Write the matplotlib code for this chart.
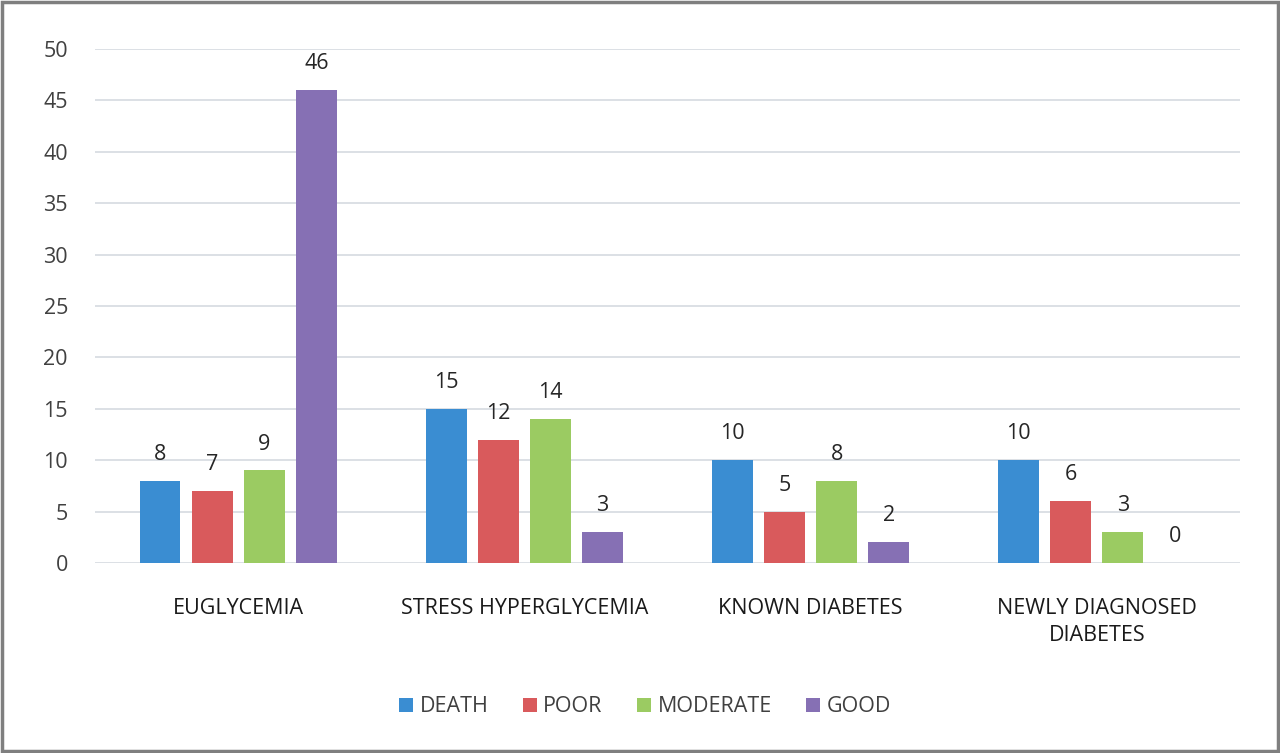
import matplotlib
matplotlib.use("Agg")
import matplotlib.pyplot as plt
import numpy as np
from matplotlib.patches import Rectangle

categories = ["EUGLYCEMIA", "STRESS HYPERGLYCEMIA", "KNOWN DIABETES", "NEWLY DIAGNOSED\nDIABETES"]
series_names = ["DEATH", "POOR", "MODERATE", "GOOD"]
death = [8, 15, 10, 10]
poor = [7, 12, 5, 6]
moderate = [9, 14, 8, 3]
good = [46, 3, 2, 0]
colors = ["#3a8dd2", "#d95a5c", "#9bcb62", "#8670b4"]
yticks = [0, 5, 10, 15, 20, 25, 30, 35, 40, 45, 50]

plt.rcParams['font.family'] = ['Open Sans', 'DejaVu Sans']
fig = plt.figure(figsize=(12.8, 7.53), dpi=100)
ax = fig.add_axes([95/1280, 1-563/753, (1240-95)/1280, (563-49)/753])

x = np.arange(len(categories))
step = 0.182
width = 0.143
data = [death, poor, moderate, good]
for i, (vals, name, c) in enumerate(zip(data, series_names, colors)):
    pos = x + (i - 1.5) * step
    ax.bar(pos, vals, width=width, color=c, label=name, zorder=3)
    for xp, v in zip(pos, vals):
        ax.annotate(str(v), (xp, v), xytext=(0, 11.5), textcoords="offset points",
                    ha="center", va="bottom", fontsize=15.5, color="#262626")

ax.set_xlim(-0.5, 3.5)
ax.set_ylim(0, 50)
ax.set_yticks(yticks)
ax.yaxis.grid(True, color="#d9dde3", linewidth=1.3, zorder=0)
ax.set_axisbelow(True)
for s in ax.spines.values():
    s.set_visible(False)
ax.tick_params(axis="y", length=0, pad=19.5, labelsize=15.5, labelcolor="#404040")
ax.set_xticks(x)
ax.set_xticklabels(categories, fontsize=15.5, color="#1a1a1a", linespacing=1.38)
ax.tick_params(axis="x", length=0, pad=25)

fig.legend(loc="center", bbox_to_anchor=(0.5 + 5/1280, 1-707/753), ncol=4, frameon=False,
           fontsize=15.5, handlelength=0.65, handleheight=0.65, handletextpad=0.3,
           columnspacing=1.6, labelcolor="#404040")

fig.patches.append(Rectangle((2/1280, 2/753), 1-4/1280, 1-4/753, transform=fig.transFigure,
                             fill=False, edgecolor="#7f7f7f", linewidth=2.5))

fig.savefig("out.png", dpi=100)
